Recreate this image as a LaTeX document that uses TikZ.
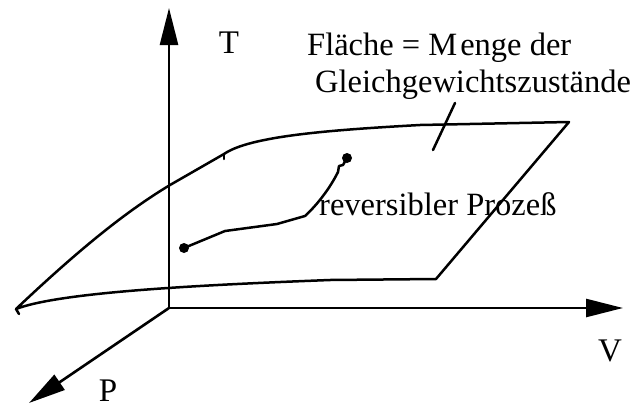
\documentclass[tikz,border=0pt]{standalone}
\usepackage{fontspec}
\setmainfont{Liberation Serif}
\usetikzlibrary{arrows.meta}
\begin{document}
\begin{tikzpicture}[x=1pt,y=-1pt,
  axis/.style={line width=2.6pt,-{Triangle[length=37pt,width=18pt]}},
  edge/.style={line width=2.5pt,line join=round,line cap=round},
  lbl/.style={inner sep=0pt,anchor=base west,font=\fontsize{32.5}{37}\selectfont},
  axlbl/.style={inner sep=0pt,anchor=base,font=\fontsize{33}{37}\selectfont},
  dot/.style={circle,fill=black,inner sep=0pt,minimum size=10pt}]
\useasboundingbox (0,0) rectangle (635,407);
% axes
\coordinate (O) at (169,308);
\coordinate (Ttip) at (169,8);
\coordinate (Vtip) at (623,308);
\coordinate (Ptip) at (29,403);
\draw[axis] (O) -- (Ttip);
\draw[axis] (O) -- (Vtip);
\draw[axis] (O) -- (Ptip);
\node[axlbl] (T) at (229,53) {T};
\node[axlbl] (V) at (610,361) {V};
\node[axlbl] (P) at (108,401) {P};
% surface
\coordinate (A) at (16,309);
\coordinate (B) at (224,154);
\coordinate (C) at (569,122);
\coordinate (D) at (436,279);
\draw[edge] (A) .. controls (70,258) and (120,215) .. (170,185)
  -- (B) .. controls (250,136) and (330,130) .. (420,125) -- (C) -- (D)
  -- (330,280) .. controls (200,285) and (60,292) .. (A);
\draw[edge] (A) -- ++(3,5);
\draw[edge] (B) -- ++(0,5);
% labels
\node[lbl] (F1) at (307,55) {Fläche = M\kern3pt enge der};
\node[lbl] (F2) at (315,92) {Gleichgewichtszustände};
\coordinate (leadA) at (455,103);
\coordinate (leadB) at (433,150);
\draw[edge] (leadA) -- (leadB);
\node[lbl] (R) at (319,215) {reversibler Prozeß};
% process
\node[dot] (s) at (184,248) {};
\node[dot] (e) at (347,158) {};
\draw[edge] (s.center) -- (225,231) -- (277,224) -- (305,216)
  .. controls (318,204) and (330,188) .. (338,172) -- (339,166) -- (343,165) -- (e.center);
\end{tikzpicture}
\end{document}
